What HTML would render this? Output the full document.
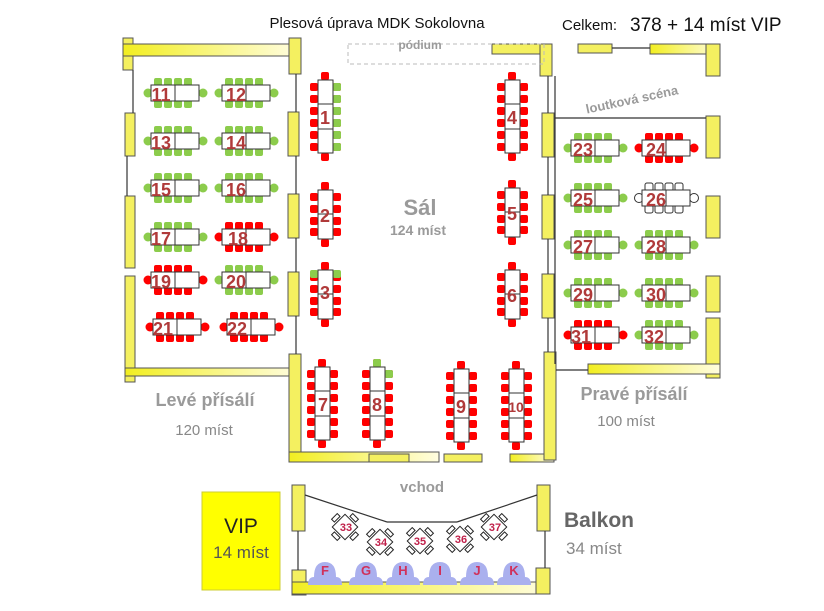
<!DOCTYPE html>
<html><head><meta charset="utf-8"><style>
html,body{margin:0;padding:0;background:#fff;}
svg{display:block;font-family:"Liberation Sans",sans-serif;}
.n{font-weight:bold;fill:#b03a3a;font-size:18px;text-anchor:middle;}
.g{fill:#9a9a9a;font-weight:bold;}
.w{fill:#f4f060;stroke:#555;stroke-width:1;}
</style></head><body>
<svg width="824" height="611" viewBox="0 0 824 611" xmlns="http://www.w3.org/2000/svg">
<defs>
<linearGradient id="yg" x1="0" x2="1"><stop offset="0" stop-color="#f2ee20"/><stop offset="1" stop-color="#fffde0"/></linearGradient>
<symbol id="hc" overflow="visible">
 <rect x="3" y="-7" width="8" height="8" rx="2"/><rect x="13" y="-7" width="8" height="8" rx="2"/><rect x="23" y="-7" width="8" height="8" rx="2"/><rect x="33" y="-7" width="8" height="8" rx="2"/>
 <rect x="3" y="15" width="8" height="8" rx="2"/><rect x="13" y="15" width="8" height="8" rx="2"/><rect x="23" y="15" width="8" height="8" rx="2"/><rect x="33" y="15" width="8" height="8" rx="2"/>
 <circle cx="-3" cy="8" r="4.5"/><circle cx="52" cy="8" r="4.5"/>
</symbol>
<symbol id="ht" overflow="visible">
 <rect x="0" y="0" width="48" height="16" fill="#fff" stroke="#333" stroke-width="1"/><line x1="24" y1="0" x2="24" y2="16" stroke="#333"/>
</symbol>
<symbol id="vc3" overflow="visible">
 <rect x="-8" y="3" width="8" height="8" rx="2"/><rect x="-8" y="15" width="8" height="8" rx="2"/><rect x="-8" y="27" width="8" height="8" rx="2"/><rect x="-8" y="39" width="8" height="8" rx="2"/><rect x="-8" y="51" width="8" height="8" rx="2"/><rect x="-8" y="63" width="8" height="8" rx="2"/>
 <rect x="15" y="3" width="8" height="8" rx="2"/><rect x="15" y="15" width="8" height="8" rx="2"/><rect x="15" y="27" width="8" height="8" rx="2"/><rect x="15" y="39" width="8" height="8" rx="2"/><rect x="15" y="51" width="8" height="8" rx="2"/><rect x="15" y="63" width="8" height="8" rx="2"/>
 <rect x="3" y="-8" width="8" height="8" rx="2"/><rect x="3" y="73" width="8" height="8" rx="2"/>
</symbol>
<symbol id="vt3" overflow="visible">
 <rect x="0" y="0" width="15" height="73" fill="#fff" stroke="#333"/><line x1="0" y1="24" x2="15" y2="24" stroke="#333"/><line x1="0" y1="49" x2="15" y2="49" stroke="#333"/>
</symbol>
<symbol id="vc2" overflow="visible">
 <rect x="-8" y="3" width="8" height="8" rx="2"/><rect x="-8" y="15" width="8" height="8" rx="2"/><rect x="-8" y="27" width="8" height="8" rx="2"/><rect x="-8" y="38" width="8" height="8" rx="2"/>
 <rect x="15" y="3" width="8" height="8" rx="2"/><rect x="15" y="15" width="8" height="8" rx="2"/><rect x="15" y="27" width="8" height="8" rx="2"/><rect x="15" y="38" width="8" height="8" rx="2"/>
 <rect x="3" y="-8" width="8" height="8" rx="2"/><rect x="3" y="49" width="8" height="8" rx="2"/>
</symbol>
<symbol id="vt2" overflow="visible">
 <rect x="0" y="0" width="15" height="49" fill="#fff" stroke="#333"/><line x1="0" y1="24" x2="15" y2="24" stroke="#333"/>
</symbol>
<symbol id="sq" overflow="visible">
 <g fill="#fff" stroke="#222"><rect x="-9" y="-9" width="18" height="18" transform="rotate(45)"/>
 <rect x="-15" y="-4" width="4" height="8" transform="rotate(45)"/><rect x="11" y="-4" width="4" height="8" transform="rotate(45)"/>
 <rect x="-4" y="-15" width="8" height="4" transform="rotate(45)"/><rect x="-4" y="11" width="8" height="4" transform="rotate(45)"/></g>
</symbol>
<symbol id="bump" overflow="visible">
 <path d="M-17,14 Q-17,6 -11,6 Q-11,-9 0,-9 Q11,-9 11,6 Q17,6 17,14 Z" fill="#aab0ee"/>
</symbol>
</defs>

<text x="377" y="28" font-size="15" text-anchor="middle" fill="#111">Plesová úprava MDK Sokolovna</text>
<text x="562" y="30" font-size="15" fill="#111">Celkem:</text>
<text x="630" y="31" font-size="19" fill="#111">378 + 14 míst VIP</text>

<g class="w">
<rect x="123" y="38" width="10" height="32"/><rect x="123" y="44" width="175" height="12" fill="url(#yg)"/>
<rect x="289" y="38" width="12" height="36"/>
<rect x="125" y="113" width="10" height="43"/><rect x="125" y="196" width="10" height="72"/>
<rect x="125" y="276" width="10" height="106"/><rect x="125" y="368" width="174" height="8" fill="url(#yg)"/>
<rect x="288" y="112" width="11" height="44"/><rect x="288" y="194" width="11" height="44"/><rect x="288" y="272" width="11" height="44"/>
<rect x="289" y="354" width="12" height="106"/><rect x="289" y="452" width="150" height="10" fill="url(#yg)"/>
<rect x="369" y="454" width="40" height="8"/><rect x="444" y="454" width="38" height="8"/>
<rect x="510" y="454" width="44" height="8" fill="url(#yg)"/><rect x="544" y="352" width="12" height="108"/>
<rect x="492" y="44" width="56" height="10"/><rect x="540" y="44" width="12" height="32"/>
<rect x="542" y="113" width="12" height="44"/><rect x="542" y="195" width="12" height="44"/><rect x="542" y="274" width="12" height="44"/>
<rect x="578" y="44" width="34" height="9"/><rect x="650" y="44" width="70" height="10" fill="url(#yg)"/>
<rect x="706" y="44" width="14" height="32"/><rect x="706" y="116" width="14" height="42"/><rect x="706" y="196" width="14" height="42"/>
<rect x="706" y="276" width="14" height="36"/><rect x="706" y="318" width="14" height="60"/>
<rect x="588" y="364" width="132" height="10" fill="url(#yg)"/>
<rect x="292" y="485" width="13" height="46"/><rect x="537" y="485" width="13" height="46"/>
<rect x="292" y="570" width="14" height="25"/><rect x="292" y="582" width="258" height="12" fill="url(#yg)"/><rect x="536" y="568" width="14" height="26"/>
</g>
<g stroke="#333" fill="none" stroke-width="1.2">
<line x1="296" y1="74" x2="296" y2="112"/><line x1="296" y1="156" x2="296" y2="194"/><line x1="296" y1="238" x2="296" y2="272"/><line x1="296" y1="316" x2="296" y2="354"/>
<line x1="548" y1="76" x2="548" y2="113"/><line x1="548" y1="157" x2="548" y2="195"/><line x1="548" y1="239" x2="548" y2="274"/><line x1="548" y1="318" x2="548" y2="352"/>
<line x1="133" y1="70" x2="133" y2="113"/><line x1="127" y1="156" x2="127" y2="196"/>
<line x1="555" y1="118" x2="706" y2="118"/><line x1="555" y1="76" x2="555" y2="364"/>
<line x1="556" y1="370" x2="588" y2="370"/>
<line x1="305" y1="495" x2="387" y2="522"/><line x1="387" y1="522" x2="457" y2="522"/><line x1="457" y1="522" x2="537" y2="495"/>
<line x1="545" y1="531" x2="545" y2="568"/><line x1="298" y1="531" x2="298" y2="570"/>
<line x1="612" y1="48" x2="650" y2="48"/>
</g>
<rect x="348" y="44" width="196" height="20" fill="none" stroke="#bbb" stroke-dasharray="4,3"/>
<text x="420" y="49" font-size="12" class="g" text-anchor="middle">pódium</text>
<text x="632" y="104" font-size="13" class="g" text-anchor="middle" transform="rotate(-12 632 100)">loutková scéna</text>

<g fill="#8ccc4c"><use href="#hc" x="151" y="85"/><use href="#hc" x="222" y="85"/><use href="#hc" x="151" y="133"/><use href="#hc" x="222" y="133"/><use href="#hc" x="151" y="180"/><use href="#hc" x="222" y="180"/><use href="#hc" x="151" y="229"/><use href="#hc" x="222" y="272"/></g>
<g fill="#f00"><use href="#hc" x="222" y="229"/><use href="#hc" x="151" y="272"/><use href="#hc" x="153" y="319"/><use href="#hc" x="227" y="319"/></g>
<g><use href="#ht" x="151" y="85"/><use href="#ht" x="222" y="85"/><use href="#ht" x="151" y="133"/><use href="#ht" x="222" y="133"/><use href="#ht" x="151" y="180"/><use href="#ht" x="222" y="180"/><use href="#ht" x="151" y="229"/><use href="#ht" x="222" y="229"/><use href="#ht" x="151" y="272"/><use href="#ht" x="222" y="272"/><use href="#ht" x="153" y="319"/><use href="#ht" x="227" y="319"/></g>
<g class="n"><text x="161" y="101">11</text><text x="236" y="101">12</text><text x="161" y="149">13</text><text x="236" y="149">14</text><text x="161" y="196">15</text><text x="236" y="196">16</text><text x="161" y="245">17</text><text x="238" y="245">18</text><text x="161" y="288">19</text><text x="236" y="288">20</text><text x="163" y="335">21</text><text x="237" y="335">22</text></g>

<g fill="#8ccc4c"><use href="#hc" x="571" y="140"/><use href="#hc" x="571" y="190"/><use href="#hc" x="571" y="237"/><use href="#hc" x="642" y="237"/><use href="#hc" x="571" y="285"/><use href="#hc" x="642" y="285"/><use href="#hc" x="642" y="327"/></g>
<g fill="#f00"><use href="#hc" x="642" y="140"/><use href="#hc" x="571" y="327"/></g>
<g fill="#fff" stroke="#333"><use href="#hc" x="642" y="190"/></g>
<g><use href="#ht" x="571" y="140"/><use href="#ht" x="642" y="140"/><use href="#ht" x="571" y="190"/><use href="#ht" x="642" y="190"/><use href="#ht" x="571" y="237"/><use href="#ht" x="642" y="237"/><use href="#ht" x="571" y="285"/><use href="#ht" x="642" y="285"/><use href="#ht" x="571" y="327"/><use href="#ht" x="642" y="327"/></g>
<g class="n"><text x="583" y="156">23</text><text x="656" y="156">24</text><text x="583" y="206">25</text><text x="656" y="206">26</text><text x="583" y="253">27</text><text x="656" y="253">28</text><text x="583" y="301">29</text><text x="656" y="301">30</text><text x="581" y="343">31</text><text x="654" y="343">32</text></g>

<g fill="#f00"><use href="#vc3" x="318" y="80"/><use href="#vc2" x="318" y="190"/><use href="#vc3" x="505" y="80"/><use href="#vc2" x="505" y="188"/><use href="#vc2" x="505" y="270"/><use href="#vc2" x="318" y="270"/>
<use href="#vc3" x="315" y="367"/><use href="#vc3" x="370" y="367"/><use href="#vc3" x="454" y="369"/><use href="#vc3" x="509" y="369"/></g>
<g fill="#8ccc4c"><rect x="333" y="83" width="8" height="8" rx="2"/><rect x="333" y="95" width="8" height="8" rx="2"/><rect x="333" y="107" width="8" height="8" rx="2"/><rect x="333" y="119" width="8" height="8" rx="2"/><rect x="333" y="131" width="8" height="8" rx="2"/><rect x="333" y="143" width="8" height="8" rx="2"/>
<rect x="310" y="270" width="8" height="8" rx="2"/><rect x="333" y="270" width="8" height="8" rx="2"/><rect x="373" y="359" width="8" height="8" rx="2"/><rect x="385" y="370" width="8" height="8" rx="2"/></g>
<g><use href="#vt3" x="318" y="80"/><use href="#vt2" x="318" y="190"/><use href="#vt2" x="318" y="270"/><use href="#vt3" x="505" y="80"/><use href="#vt2" x="505" y="188"/><use href="#vt2" x="505" y="270"/>
<use href="#vt3" x="315" y="367"/><use href="#vt3" x="370" y="367"/><use href="#vt3" x="454" y="369"/><use href="#vt3" x="509" y="369"/></g>
<g class="n"><text x="325" y="124">1</text><text x="325" y="222">2</text><text x="325" y="299">3</text><text x="512" y="124">4</text><text x="512" y="220">5</text><text x="512" y="302">6</text><text x="323" y="411">7</text><text x="377" y="411">8</text><text x="461" y="413">9</text><text x="516" y="412" font-size="14">10</text></g>

<text x="420" y="215" font-size="22" class="g" text-anchor="middle">Sál</text>
<text x="418" y="235" font-size="14" class="g" text-anchor="middle">124 míst</text>
<text x="205" y="406" font-size="18" class="g" text-anchor="middle">Levé přísálí</text>
<text x="204" y="435" font-size="15" fill="#888" text-anchor="middle">120 míst</text>
<text x="634" y="400" font-size="18" class="g" text-anchor="middle">Pravé přísálí</text>
<text x="626" y="426" font-size="15" fill="#888" text-anchor="middle">100 míst</text>
<text x="422" y="492" font-size="15" class="g" text-anchor="middle">vchod</text>

<use href="#sq" x="345" y="527"/><use href="#sq" x="380" y="542"/><use href="#sq" x="420" y="541"/><use href="#sq" x="460" y="539"/><use href="#sq" x="494" y="527"/>
<g fill="#c0204a" font-weight="bold" font-size="11" text-anchor="middle"><text x="346" y="531">33</text><text x="381" y="546">34</text><text x="420" y="545">35</text><text x="461" y="543">36</text><text x="495" y="531">37</text></g>
<use href="#bump" x="325" y="571"/><use href="#bump" x="366" y="571"/><use href="#bump" x="403" y="571"/><use href="#bump" x="440" y="571"/><use href="#bump" x="477" y="571"/><use href="#bump" x="514" y="571"/>
<g fill="#d0305a" font-weight="bold" font-size="13" text-anchor="middle"><text x="325" y="575">F</text><text x="366" y="575">G</text><text x="403" y="575">H</text><text x="440" y="575">I</text><text x="477" y="575">J</text><text x="514" y="575">K</text></g>
<text x="564" y="527" font-size="21" fill="#666" font-weight="bold">Balkon</text>
<text x="566" y="554" font-size="17" fill="#888">34 míst</text>

<rect x="202" y="492" width="78" height="98" fill="#ffff00" stroke="#cc3" stroke-width="1"/>
<text x="241" y="533" font-size="21" text-anchor="middle" fill="#222">VIP</text>
<text x="241" y="558" font-size="17" text-anchor="middle" fill="#555">14 míst</text>
</svg>
</body></html>
